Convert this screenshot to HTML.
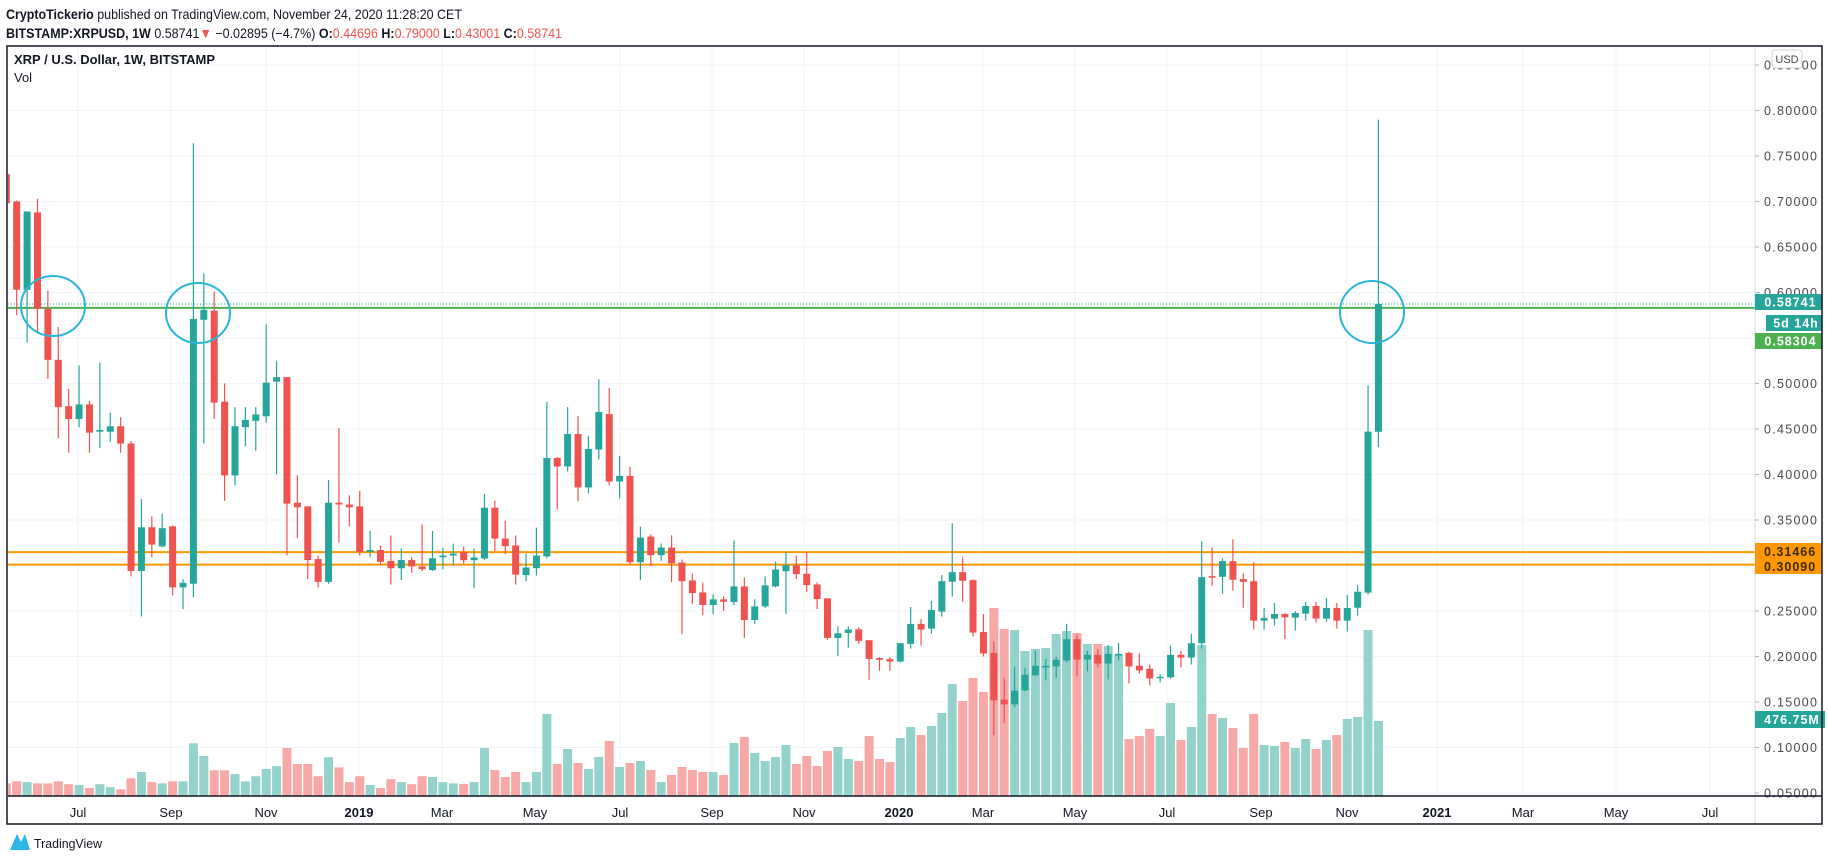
<!DOCTYPE html>
<html><head><meta charset="utf-8"><style>
html,body{margin:0;padding:0;background:#fff;}
svg{display:block;}
text{font-family:"Liberation Sans",sans-serif;}
</style></head><body>
<svg id="s" width="1828" height="862" xmlns="http://www.w3.org/2000/svg"></svg>
<script>
const D=[[.73,.73,.695,.698],[.700,.701,.575,.603],[.603,.689,.545,.689],[.688,.703,.555,.582],[.582,.602,.505,.526],[.526,.562,.44,.474],[.475,.494,.424,.461],[.461,.52,.452,.477],[.477,.481,.424,.446],[.447,.523,.429,.449],[.447,.468,.436,.453],[.453,.463,.424,.434],[.434,.437,.288,.294],[.294,.373,.244,.342],[.342,.354,.309,.323],[.321,.357,.32,.341],[.343,.344,.267,.276],[.276,.285,.252,.281],[.280,.764,.265,.571],[.570,.621,.434,.581],[.580,.601,.461,.479],[.48,.50,.371,.399],[.399,.474,.388,.453],[.452,.474,.431,.46],[.459,.474,.426,.466],[.464,.565,.457,.501],[.502,.525,.40,.507],[.507,.507,.311,.368],[.369,.399,.33,.364],[.365,.365,.285,.306],[.307,.311,.276,.282],[.282,.394,.28,.369],[.369,.451,.325,.367],[.367,.377,.343,.364],[.365,.382,.311,.315],[.315,.338,.309,.317],[.317,.322,.30,.304],[.305,.333,.279,.297],[.297,.319,.284,.306],[.306,.309,.292,.299],[.299,.345,.294,.296],[.295,.338,.294,.308],[.309,.319,.296,.311],[.311,.324,.30,.313],[.3146,.3208,.3022,.3058],[.3058,.3186,.275,.3088],[.3077,.3788,.3058,.3635],[.3635,.3712,.316,.3296],[.3296,.349,.3124,.3212],[.322,.333,.279,.290],[.2894,.3131,.2828,.2978],[.2971,.3416,.289,.3109],[.310,.4796,.308,.4182],[.4182,.4193,.3617,.4088],[.4088,.4741,.4033,.4445],[.4445,.4642,.3704,.3858],[.3858,.4423,.3792,.4281],[.4274,.5047,.4164,.4686],[.4664,.4949,.388,.3923],[.3923,.4204,.3737,.3985],[.3985,.4084,.3007,.3036],[.3036,.3427,.2839,.3307],[.3318,.3343,.2993,.3113],[.3113,.3241,.3051,.3197],[.3197,.3332,.2818,.3025],[.3033,.3066,.2248,.2828],[.2836,.2912,.2577,.2697],[.2704,.2814,.2456,.2566],[.2566,.2682,.2467,.2628],[.2628,.2661,.25,.2602],[.2599,.3274,.2566,.277],[.277,.2869,.2204,.2401],[.2401,.2628,.2358,.2551],[.2551,.288,.2533,.2781],[.277,.3044,.2759,.2956],[.2938,.3153,.2467,.3004],[.3004,.3109,.285,.2905],[.2909,.3153,.2708,.2785],[.2792,.2814,.2522,.2631],[.2639,.2639,.2182,.2204],[.2204,.2332,.2007,.2255],[.2259,.2332,.2095,.2296],[.2299,.2321,.2139,.2172],[.2179,.2179,.1744,.1974],[.1982,.1993,.1843,.1964],[.1971,.1993,.1843,.1945],[.1945,.2153,.1934,.2146],[.2139,.2544,.2088,.2358],[.2358,.2412,.212,.2296],[.2307,.2609,.2252,.2511],[.2493,.2894,.2438,.2828],[.2821,.3464,.2657,.2927],[.2927,.3091,.2602,.2832],[.2839,.285,.2219,.2263],[.227,.2467,.2,.2033],[.204,.2161,.1135,.1518],[.1526,.1766,.1266,.1474],[.1474,.1887,.1442,.1624],[.1628,.1876,.1617,.18],[.1792,.2066,.1792,.1898],[.188,.1974,.1737,.1898],[.1891,.1997,.1763,.1964],[.1957,.2358,.1934,.219],[.219,.2241,.1781,.1967],[.1967,.2062,.1836,.2018],[.2018,.2084,.188,.1923],[.1923,.2128,.1748,.2029],[.2011,.215,.1956,.2029],[.204,.2051,.1704,.1891],[.1898,.2036,.1814,.1847],[.1865,.1912,.1682,.1759],[.177,.1803,.1715,.1777],[.177,.212,.1759,.2018],[.2018,.2062,.188,.1989],[.1989,.2248,.1912,.2146],[.2146,.3266,.2088,.2872],[.2883,.32,.2777,.2876],[.2876,.308,.269,.3048],[.3048,.3288,.2723,.2843],[.285,.2916,.2536,.2821],[.2828,.3036,.2296,.2394],[.2394,.2533,.2296,.2423],[.2416,.2588,.2339,.2467],[.2467,.2478,.2192,.2431],[.2427,.25,.2285,.2478],[.2471,.2599,.2394,.2555],[.2555,.2599,.2372,.2416],[.2416,.2642,.2383,.2533],[.2533,.2588,.2307,.2394],[.2394,.2675,.2274,.2533],[.2536,.2785,.2449,.2712],[.2702,.498,.2682,.4471],[.44696,.79,.43001,.58741]];
const V=[12.6,14.7,13.9,12.6,12.6,14.7,11.8,11,8,11.8,8.8,6.7,17.7,24,13.9,12.6,14.7,14.7,52.7,40,25.7,25.7,21.9,14.7,19.8,27,29.9,48,32,32,19.8,38.8,28.6,13.9,19.8,11,8,16.8,13.9,11.8,19.8,19,13.9,12.6,
12,14,48,26,19,24,14,24,82,32,47,33,27,39,55,29,33,35,26,14,21,29,26,24,24,21,53,59,43,35,39,51,32,40,30,45,49,37,35,60,37,34,58,69,
61,70,83,112,95,118,104,188,167,166,145,147,148,162,165,163,152,152,150,141,57,60,67,60,93,56,69,151,82,78,68,48,82,51,50,54,48,57,47,56,61,77,79,166,75];
const Y=p=>793-(p-0.05)*910, X=i=>6.3+10.395*i;
let h='';
const L=8,T=46,R=1822,B=824,AX=1755,TB=796;
h+=`<defs><clipPath id="c"><rect x="${L}" y="${T}" width="${AX-L}" height="${TB-T}"/></clipPath></defs>`;
h+=`<text x="6" y="19" font-size="14" fill="#131722" textLength="456" lengthAdjust="spacingAndGlyphs"><tspan font-weight="bold">CryptoTickerio</tspan> published on TradingView.com, November 24, 2020 11:28:20 CET</text>`;
h+=`<text x="6" y="38" font-size="14" fill="#131722" textLength="556" lengthAdjust="spacingAndGlyphs"><tspan font-weight="bold">BITSTAMP:XRPUSD, 1W</tspan> 0.58741<tspan fill="#ef5350">▼</tspan> −0.02895 (−4.7%) <tspan font-weight="bold">O:</tspan><tspan fill="#ef5350">0.44696</tspan> <tspan font-weight="bold">H:</tspan><tspan fill="#ef5350">0.79000</tspan> <tspan font-weight="bold">L:</tspan><tspan fill="#ef5350">0.43001</tspan> <tspan font-weight="bold">C:</tspan><tspan fill="#ef5350">0.58741</tspan></text>`;
for(let k=1;k<=17;k++){const p=k*0.05;const y=Y(p);if(y>T)h+=`<line x1="${L}" x2="${AX}" y1="${y}" y2="${y}" stroke="#f0f3fa" stroke-width="1"/>`;}
const M=[[78,'Jul'],[171,'Sep'],[266,'Nov'],[359,'2019',1],[442,'Mar'],[535,'May'],[620,'Jul'],[712,'Sep'],[804,'Nov'],[899,'2020',1],[983,'Mar'],[1075,'May'],[1167,'Jul'],[1261,'Sep'],[1347,'Nov'],[1437,'2021',1],[1523,'Mar'],[1616,'May'],[1710,'Jul']];
M.forEach(m=>{h+=`<line x1="${m[0]}" x2="${m[0]}" y1="${T}" y2="${TB}" stroke="#f0f3fa"/>`;h+=`<text x="${m[0]}" y="817" font-size="13" text-anchor="middle" fill="#131722" ${m[2]?'font-weight="bold"':''}>${m[1]}</text>`;});
h+=`<g clip-path="url(#c)">`;
D.forEach((d,i)=>{const up=d[3]>=d[0];const x=X(i);h+=`<rect x="${x-4.5}" y="${TB-V[i]}" width="9" height="${V[i]}" fill="${up?'#94d3cc':'#f6a9a7'}"/>`;});
h+=`<line x1="${L}" x2="${AX}" y1="${Y(0.58741)}" y2="${Y(0.58741)}" stroke="#26a69a" stroke-dasharray="1,2"/>`;
h+=`<line x1="${L}" x2="${AX}" y1="${Y(0.58304)}" y2="${Y(0.58304)}" stroke="#4caf50" stroke-width="2"/>`;
h+=`<line x1="${L}" x2="${AX}" y1="${Y(0.31466)}" y2="${Y(0.31466)}" stroke="#ff9800" stroke-width="2"/>`;
h+=`<line x1="${L}" x2="${AX}" y1="${Y(0.3009)}" y2="${Y(0.3009)}" stroke="#ff9800" stroke-width="2"/>`;
D.forEach((d,i)=>{const up=d[3]>=d[0];const c=up?'#26a69a':'#ef5350';const x=X(i);
const t=Y(Math.max(d[0],d[3])),b=Y(Math.min(d[0],d[3]));
h+=`<line x1="${x}" x2="${x}" y1="${Y(d[1])}" y2="${Y(d[2])}" stroke="${c}" stroke-width="1.2"/>`;
h+=`<rect x="${x-3.5}" y="${t}" width="7" height="${Math.max(b-t,1.5)}" fill="${c}"/>`;});
[[53,306,32,30],[198,313,32,30],[1372,312,32,31]].forEach(e=>{h+=`<ellipse cx="${e[0]}" cy="${e[1]}" rx="${e[2]}" ry="${e[3]}" fill="none" stroke="#29b6d8" stroke-width="2"/>`;});
h+=`</g>`;
h+=`<text x="14" y="64" font-size="13" font-weight="bold" fill="#131722">XRP / U.S. Dollar, 1W, BITSTAMP</text>`;
h+=`<text x="14" y="82" font-size="13" fill="#131722">Vol</text>`;
h+=`<line x1="${AX}" x2="${AX}" y1="${T}" y2="${B}" stroke="#d6dce6"/>`;
for(let k=1;k<=17;k++){const p=k*0.05;const y=Y(p);h+=`<line x1="${AX}" x2="${AX+4}" y1="${y}" y2="${y}" stroke="#b2b5be"/>`;h+=`<text x="1764" y="${y+4.5}" font-size="12.5" letter-spacing="1.3" fill="#4a4a4a">${p.toFixed(5)}</text>`;}
h+=`<rect x="1772" y="50" width="30" height="18" rx="3" fill="#fff" stroke="#d6d6d6"/><text x="1787" y="63" font-size="11" text-anchor="middle" fill="#4a4a4a">USD</text>`;
const lab=(y,hh,x,w,col,txt)=>{h+=`<rect x="${x}" y="${y}" width="${w}" height="${hh}" fill="${col}"/><text x="${x+w/2+2}" y="${y+hh/2+4.5}" font-size="12.5" font-weight="bold" letter-spacing="1" text-anchor="middle" fill="#fff">${txt}</text>`;};
lab(294,16,AX,67,'#26a69a','0.58741');
lab(315,16,1766,56,'#26a69a','5d 14h');
lab(333,16,AX,67,'#4caf50','0.58304');
h+=`<rect x="${AX}" y="543" width="67" height="31" fill="#ff9800"/>`;
h+=`<text x="1764" y="556" font-size="12.5" font-weight="bold" letter-spacing="1" fill="#3a2a00">0.31466</text><text x="1764" y="571" font-size="12.5" font-weight="bold" letter-spacing="1" fill="#3a2a00">0.30090</text>`;
lab(711,17,AX,70,'#26a69a','476.75M');
h+=`<line x1="${L}" x2="${R}" y1="${TB}" y2="${TB}" stroke="#131722" stroke-width="1.5"/>`;
h+=`<rect x="${L-1}" y="${T}" width="${R-L+1}" height="${B-T}" fill="none" stroke="#131722" stroke-width="1.5"/>`;
h+=`<path d="M10 850 L17 834 L21 842 L25 834 L30 850 Z" fill="#2bb5e8"/><text x="34" y="848" font-size="13" fill="#131722" textLength="68" lengthAdjust="spacingAndGlyphs">TradingView</text>`;
document.getElementById('s').innerHTML=h;
</script>
</body></html>
